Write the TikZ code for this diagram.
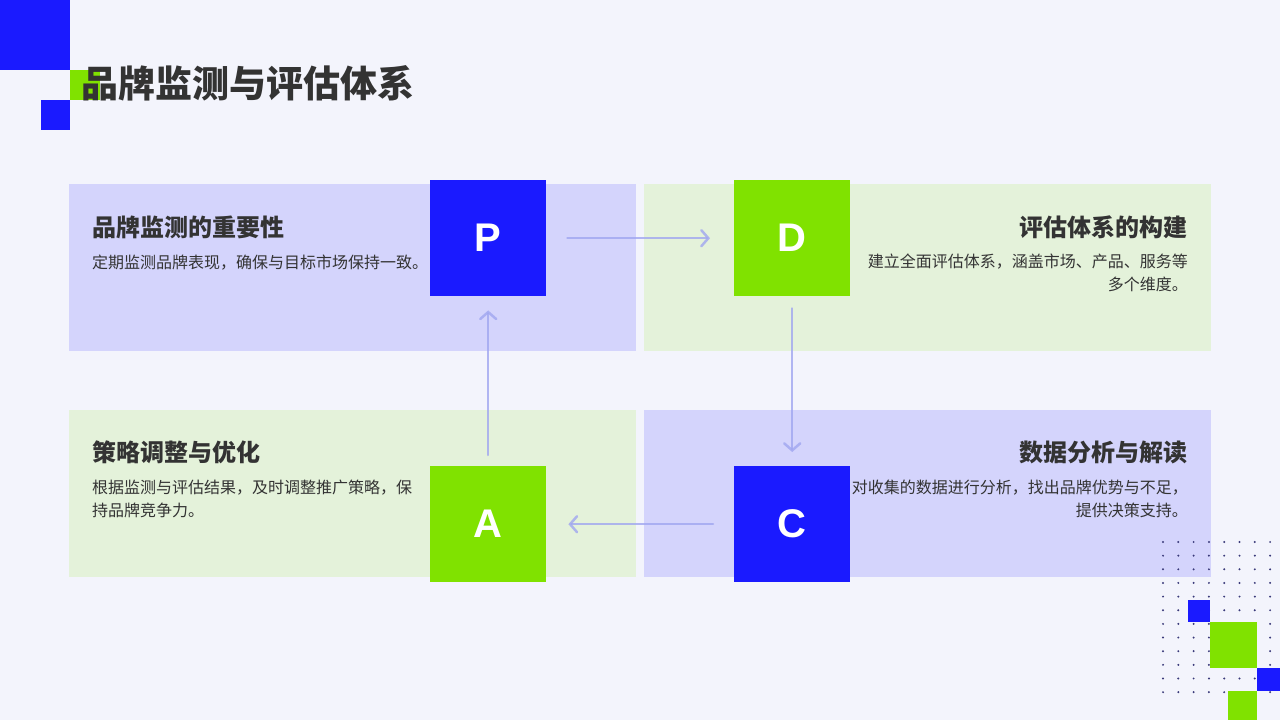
\documentclass[tikz,border=0pt]{standalone}
\usepackage{fontspec}
\setmainfont{Noto Sans CJK SC}
\newfontfamily\letterfont{Liberation Sans}
\usetikzlibrary{arrows.meta,positioning}
\definecolor{pdbg}{RGB}{243,244,252}
\definecolor{pdblue}{RGB}{26,26,255}
\definecolor{pdgreen}{RGB}{128,226,0}
\definecolor{pdlav}{RGB}{212,212,252}
\definecolor{pdmint}{RGB}{228,242,218}
\definecolor{pdtext}{RGB}{51,51,51}
\definecolor{pdarrow}{RGB}{160,166,240}
\definecolor{pddot}{RGB}{58,58,122}
\tikzset{
  panel/.style={draw=none,minimum width=567pt,minimum height=167pt,inner sep=0pt,anchor=north west},
  letterbox/.style={minimum size=116pt,inner sep=0pt,anchor=north west,text=white,font=\letterfont\fontsize{40}{40}\selectfont\bfseries},
  heading/.style={inner sep=0pt,text=pdtext,font=\fontsize{24}{24}\selectfont\bfseries},
  body/.style={inner sep=0pt,text=pdtext,font=\fontsize{16}{23}\selectfont},
  flow/.style={draw=pdarrow,line width=2.5pt,opacity=0.8,line cap=round,-{Straight Barb[length=7pt,width=16pt,line cap=round]}}
}
\begin{document}
\begin{tikzpicture}[x=1pt,y=-1pt]
  \useasboundingbox (0,0) rectangle (1280,720);
  \fill[pdbg] (0,0) rectangle (1280,720);
  % corner squares
  \fill[pdblue] (0,0) rectangle (70,70);
  \fill[pdgreen] (70,70) rectangle (100,100);
  \fill[pdblue] (41,100) rectangle (70,130);
  % title
  \node[inner sep=0pt,anchor=west,text=pdtext,font=\fontsize{37}{37}\selectfont\bfseries] (title) at (81,83) {品牌监测与评估体系};
  % panels
  \node[panel,fill=pdlav] (p1) at (69,184) {};
  \node[panel,fill=pdmint] (p2) at (644,184) {};
  \node[panel,fill=pdmint] (p3) at (69,410) {};
  \node[panel,fill=pdlav] (p4) at (644,410) {};
  % dot grid
  \foreach \i in {0,...,7} {
    \foreach \j in {0,...,11} {
      \fill[pddot] (1163+15.3*\i,542+13.65*\j) circle (1.1pt);
    }
  }
  % bottom right squares
  \fill[pdblue] (1188,600) rectangle (1210,622);
  \fill[pdgreen] (1210,622) rectangle (1257,668);
  \fill[pdblue] (1257,668) rectangle (1280,691);
  \fill[pdgreen] (1228,691) rectangle (1257,720);
  % letter boxes
  \node[letterbox,fill=pdblue] (P) at (430,180) {P};
  \node[letterbox,fill=pdgreen] (D) at (734,180) {D};
  \node[letterbox,fill=pdgreen] (A) at (430,466) {A};
  \node[letterbox,fill=pdblue] (C) at (734,466) {C};
  % texts
  \node[heading,anchor=west] (h1) at (92,227) {品牌监测的重要性};
  \node[body,anchor=west] (b1) at (92,263) {定期监测品牌表现，确保与目标市场保持一致。};
  \node[heading,anchor=east] (h2) at (1188,227) {评估体系的构建};
  \node[body,anchor=north east,align=right] (b2) at (1188,254) {建立全面评估体系，涵盖市场、产品、服务等\\多个维度。};
  \node[heading,anchor=west] (h3) at (92,452) {策略调整与优化};
  \node[body,anchor=north west,align=left] (b3) at (92,480) {根据监测与评估结果，及时调整推广策略，保\\持品牌竞争力。};
  \node[heading,anchor=east] (h4) at (1188,452) {数据分析与解读};
  \node[body,anchor=north east,align=right] (b4) at (1188,480) {对收集的数据进行分析，找出品牌优势与不足，\\提供决策支持。};
  % cycle arrows
  \draw[flow,shorten <=21pt,shorten >=24pt] (P.east) -- (D.west);
  \draw[flow,shorten <=12pt,shorten >=14pt] (D.south) -- (C.north);
  \draw[flow,shorten <=21pt,shorten >=22pt] (C.west) -- (A.east);
  \draw[flow,shorten <=11pt,shorten >=14pt] (A.north) -- (P.south);
\end{tikzpicture}
\end{document}
